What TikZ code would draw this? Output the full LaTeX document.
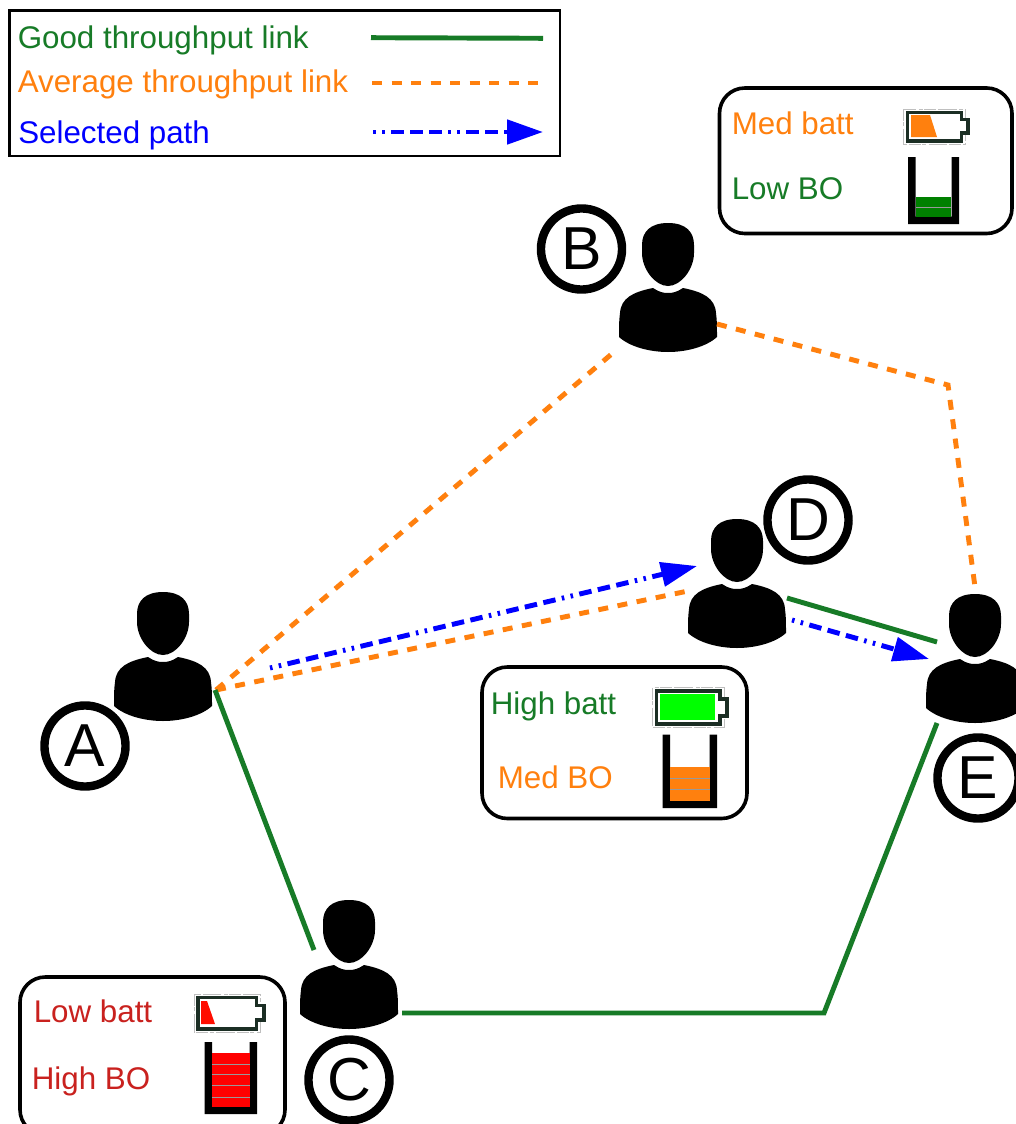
\documentclass[tikz,border=0pt]{standalone}
\usepackage{fontspec}
\setmainfont{Liberation Sans}
\usetikzlibrary{arrows.meta,calc}
\definecolor{gdgreen}{HTML}{177B27}
\definecolor{avorange}{HTML}{FF800E}
\definecolor{lored}{HTML}{C9211E}
\definecolor{battdark}{HTML}{1B2E24}
\tikzset{
  goodlink/.style={draw=gdgreen,line width=3.7pt},
  avglink/.style={draw=avorange,line width=3.7pt,dash pattern=on 7.5pt off 7.15pt},
  pathlink/.style={draw=blue,line width=3.7pt,dash pattern=on 1.9pt off 4.85pt on 1.9pt off 4.85pt on 9.4pt off 4.85pt on 9.4pt off 4.85pt on 9.4pt off 4.85pt,-{Triangle[length=27pt,width=18pt,fill=blue]}},
  infobox/.style={draw=black,line width=2.7pt,rounded corners=19pt,fill=white},
  lbl/.style={anchor=base west,inner sep=0pt,font=\fontsize{23.5}{24}\selectfont},
  badge/.style={circle,draw=black,line width=6.3pt,fill=white,minimum size=60.8pt,inner sep=0pt,font=\fontsize{45.5}{46}\selectfont},
  personbox/.style={inner sep=0pt,minimum size=1pt},
  person/.pic={
    \fill[black] (0,-65) .. controls (-18,-65) and (-26,-56) .. (-26,-43)
      -- (-26,-35) .. controls (-26,-19) and (-13,-2) .. (0,-2)
      .. controls (13,-2) and (26,-19) .. (26,-35)
      -- (26,-43) .. controls (26,-56) and (18,-65) .. (0,-65) -- cycle;
    \fill[black] (-15,0) .. controls (-9,4) and (-5,5) .. (0,5)
      .. controls (5,5) and (9,4) .. (15,0)
      .. controls (35,4) and (47,10) .. (48,25)
      .. controls (49,32) and (49,40) .. (49,49)
      .. controls (38,59) and (18,64) .. (0,64)
      .. controls (-18,64) and (-38,59) .. (-49,49)
      .. controls (-49,40) and (-49,32) .. (-48,25)
      .. controls (-47,10) and (-35,4) .. (-15,0) -- cycle;
  },
  batteryshape/.style={draw=battdark,line width=2.5pt,fill=white},
  battery halo/.style={draw=black!25,line width=.7pt,dash pattern=on 9pt off 1pt on 3pt off 2pt on 14pt off 1.5pt},
  bucketshape/.style={fill=black},
  levelline/.style={draw=black!40,line width=.6pt}
}
\newcommand{\battery}[8]{% x0 y0 x1 y1 x2(term) ty0 ty1 fill
  \draw[battery halo] (#1-4,#2-3.5) rectangle (#3+4,#4+3.5);
  \draw[batteryshape] (#1,#2) -- (#3,#2) -- (#3,#6) -- (#5,#6) -- (#5,#7) -- (#3,#7) -- (#3,#4) -- (#1,#4) -- cycle;
  #8
}
\newcommand{\bucket}[4]{% x0 y0 x1 y1
  \fill[bucketshape] (#1,#2) -- (#1+7.5,#2) -- (#1+7.5,#4-7.5) -- (#3-7.5,#4-7.5) -- (#3-7.5,#2) -- (#3,#2) -- (#3,#4) -- (#1,#4) -- cycle;
}
\begin{document}
\begin{tikzpicture}[x=0.75pt,y=-0.75pt]
\clip (0,0) rectangle (1016,1124);
\fill[white] (0,0) rectangle (1016,1124);

% legend
\node[draw=black,line width=1.8pt,fill=white,minimum width=413pt,minimum height=109pt,inner sep=0pt,anchor=north west] (legend) at (8.2,9.2) {};
\node[lbl,text=gdgreen] (lgood) at (17.5,49) {Good throughput link};
\node[lbl,text=avorange] (lavg) at (17.5,93) {Average throughput link};
\node[lbl,text=blue] (lsel) at (18,143) {Selected path};
\coordinate (lg1) at (371,37.7); \coordinate (lg2) at (543,38.3);
\coordinate (la1) at (372,83); \coordinate (la2) at (538.5,83);
\coordinate (ls1) at (373,132); \coordinate (ls2) at (543,132);
\draw[goodlink] (lg1) -- (lg2);
\draw[avglink] (la1) -- (la2);
\draw[pathlink] (ls1) -- (ls2);

% persons
\node[personbox] (A) at (163,657) {}; \pic at (A) {person};
\node[personbox] (B) at (668,288) {}; \pic at (B) {person};
\node[personbox] (C) at (349,965) {}; \pic at (C) {person};
\node[personbox] (D) at (737,584) {}; \pic at (D) {person};
\node[personbox] (E) at (975,659) {}; \pic at (E) {person};

% badges
\node[badge] (bA) at (85,746) {A};
\node[badge] (bB) at (581.5,249) {B};
\node[badge] (bC) at (349,1080) {C};
\node[badge] (bD) at (808,520) {D};
\node[badge] (bE) at (978,778) {E};

% link end points
\coordinate (Ao) at (216,690);
\coordinate (Ag) at (215,690);
\coordinate (Ab) at (270,668);
\coordinate (Bl) at (614,352);
\coordinate (Br) at (717,324);
\coordinate (Bk) at (948,385);
\coordinate (Et) at (975,587);
\coordinate (Do) at (688,591);
\coordinate (Dt) at (697,566);
\coordinate (Dg) at (787,598);
\coordinate (Eg) at (937,642);
\coordinate (Db) at (792,620);
\coordinate (Ea) at (929,659);
\coordinate (Ct) at (314,950);
\coordinate (Cr) at (402,1013);
\coordinate (Ck) at (824,1013);
\coordinate (Eb) at (937,723);

\draw[avglink] (Ao) -- (Bl);
\draw[avglink] (Br) -- (Bk) -- (Et);
\draw[avglink] (Ao) -- (Do);
\draw[pathlink] (Ab) -- (Dt);
\draw[goodlink] (Dg) -- (Eg);
\draw[pathlink] (Db) -- (Ea);
\draw[goodlink] (Ag) -- (Ct);
\draw[goodlink] (Cr) -- (Ck) -- (Eb);

% box B
\draw[infobox] (719.5,88) rectangle (1012,233.5);
\node[lbl,text=avorange] (tB1) at (731.5,134) {Med batt};
\node[lbl,text=gdgreen] (tB2) at (731.5,199) {Low BO};
\battery{907.5}{112.5}{961.5}{141}{968}{119.5}{133}{\fill[avorange] (911,115) -- (930,115) -- (937,137) -- (911,137) -- cycle;}
\bucket{908}{157}{959}{224}
\fill[green!50!black] (916,197) rectangle (951,217);
\draw[levelline] (916,207) -- (951,207);

% box D
\draw[infobox] (482,667) rectangle (747,818.5);
\node[lbl,text=gdgreen] (tD1) at (490.5,714) {High batt};
\node[lbl,text=avorange] (tD2) at (497.5,788) {Med BO};
\battery{656.5}{691}{720}{724}{727}{699}{716}{\fill[green] (660,694) rectangle (715,720);}
\bucket{662.5}{734.5}{717}{808}
\fill[avorange] (670,767) rectangle (709.5,801);
\draw[levelline] (670,778) -- (709.5,778);
\draw[levelline] (670,789) -- (709.5,789);

% box C
\draw[infobox] (20,977) rectangle (285,1135);
\node[lbl,text=lored] (tC1) at (33.5,1022) {Low batt};
\node[lbl,text=lored] (tC2) at (31.5,1089) {High BO};
\battery{198}{997.5}{256.5}{1029}{264}{1005.5}{1020}{\fill[red!90!orange] (201,1001) -- (207,1001) -- (215,1024) -- (201,1024) -- cycle;}
\bucket{204.5}{1042}{257}{1114}
\fill[red] (212,1053) rectangle (249.5,1107);
\foreach \yy in {1064,1074,1085,1097} \draw[levelline] (212,\yy) -- (249.5,\yy);
\end{tikzpicture}
\end{document}
